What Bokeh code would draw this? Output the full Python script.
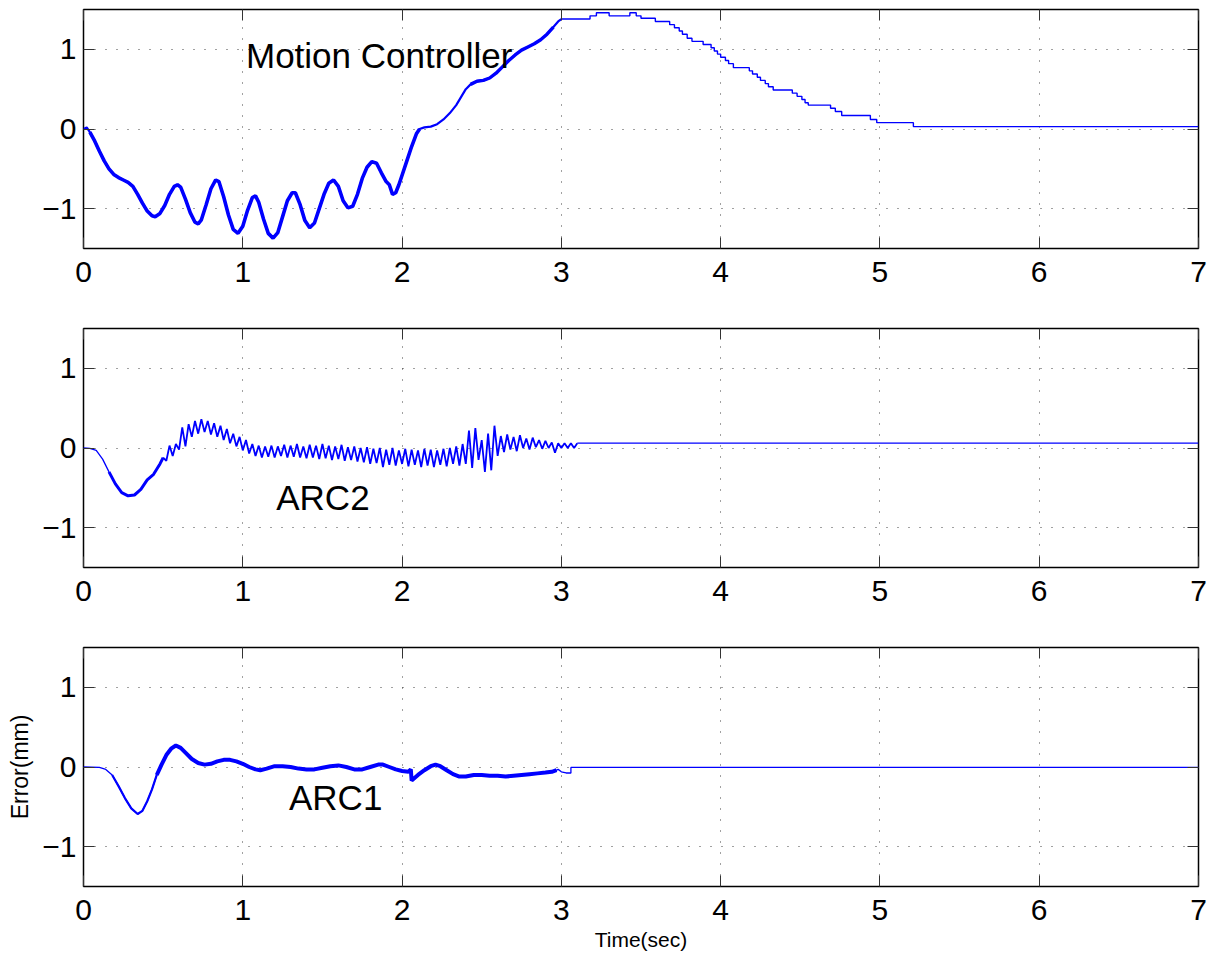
from bokeh.plotting import figure
from bokeh.models import Range1d, FixedTicker, LinearAxis, Label
from bokeh.layouts import column
from bokeh.embed import file_html
from bokeh.resources import INLINE

# ---------------- data ----------------
x_ticks = [0, 1, 2, 3, 4, 5, 6, 7]
y_ticks = [-1, 0, 1]
y_tick_labels = {-1: "\u22121", 0: "0", 1: "1"}

# Motion Controller: continuous part
mc_t = [0.00, 0.01, 0.02, 0.04, 0.07, 0.10, 0.13, 0.16, 0.19, 0.22, 0.25, 0.28, 0.31, 0.34, 0.37,
        0.40, 0.43, 0.45, 0.48, 0.51, 0.54, 0.57, 0.59, 0.61, 0.64, 0.67, 0.70, 0.72, 0.74, 0.77,
        0.80, 0.83, 0.85, 0.88, 0.91, 0.94, 0.97, 1.00, 1.03, 1.06, 1.08, 1.10, 1.13, 1.16, 1.19,
        1.22, 1.25, 1.28, 1.31, 1.33, 1.36, 1.39, 1.42, 1.45, 1.48, 1.51, 1.54, 1.57, 1.60, 1.63,
        1.66, 1.69, 1.72, 1.75, 1.78, 1.81, 1.84, 1.87, 1.90, 1.92, 1.94, 1.96, 1.98, 2.00, 2.03,
        2.06, 2.09, 2.11, 2.14, 2.18, 2.22, 2.26, 2.30, 2.34, 2.37, 2.40, 2.43, 2.47, 2.51, 2.55,
        2.59, 2.63, 2.67, 2.71, 2.75, 2.79, 2.83, 2.87, 2.91, 2.95, 2.98, 3.00]
mc_y = [0.00, 0.01, 0.02, -0.04, -0.15, -0.28, -0.40, -0.50, -0.57, -0.61, -0.64, -0.67, -0.72, -0.82, -0.93,
        -1.03, -1.09, -1.10, -1.06, -0.96, -0.82, -0.72, -0.70, -0.73, -0.88, -1.05, -1.17, -1.19, -1.14, -0.95,
        -0.75, -0.64, -0.66, -0.85, -1.08, -1.26, -1.31, -1.22, -1.02, -0.86, -0.84, -0.92, -1.13, -1.31, -1.37,
        -1.30, -1.10, -0.90, -0.80, -0.80, -0.95, -1.15, -1.24, -1.18, -1.00, -0.82, -0.68, -0.64, -0.72, -0.90,
        -0.99, -0.97, -0.82, -0.62, -0.48, -0.41, -0.43, -0.55, -0.66, -0.70, -0.82, -0.80, -0.70, -0.58, -0.40,
        -0.22, -0.06, 0.00, 0.02, 0.03, 0.06, 0.12, 0.20, 0.30, 0.40, 0.50, 0.56, 0.60, 0.61, 0.64,
        0.70, 0.78, 0.86, 0.93, 0.99, 1.03, 1.07, 1.12, 1.19, 1.28, 1.35, 1.38]

# Motion Controller: quantised (stair) part, value held from each time
mc_step_t = [3.00, 3.18, 3.22, 3.30, 3.43, 3.47, 3.50, 3.59, 3.68, 3.71, 3.74, 3.76, 3.79, 3.82,
             3.89, 3.94, 3.96, 3.98, 4.00, 4.03, 4.05, 4.08, 4.18, 4.20, 4.23, 4.25, 4.28, 4.30,
             4.33, 4.45, 4.48, 4.51, 4.53, 4.55, 4.69, 4.72, 4.76, 4.94, 4.98, 5.21, 7.00]
mc_step_y = [1.38, 1.42, 1.46, 1.42, 1.46, 1.42, 1.39, 1.35, 1.31, 1.27, 1.23, 1.19, 1.14, 1.10,
             1.06, 1.02, 0.98, 0.94, 0.90, 0.86, 0.82, 0.77, 0.73, 0.69, 0.65, 0.61, 0.57, 0.53,
             0.49, 0.45, 0.41, 0.37, 0.33, 0.30, 0.26, 0.22, 0.17, 0.12, 0.08, 0.03, 0.03]

# ARC2: initial transient
arc2_t = [0.00, 0.04, 0.08, 0.12, 0.16, 0.20, 0.24, 0.28, 0.32, 0.36, 0.40, 0.44, 0.48, 0.50]
arc2_y = [0.00, -0.005, -0.03, -0.14, -0.30, -0.45, -0.56, -0.60, -0.59, -0.52, -0.40, -0.33, -0.20, -0.12]
# ARC2: oscillating part, read every 0.02 s from t = 0.50 s
arc2_osc_t0 = 0.50
arc2_osc_dt = 0.02
arc2_osc_y = [
    -0.12, -0.16, 0.03, -0.10, 0.05, -0.02, 0.26, 0.02, 0.30, 0.14,
    0.34, 0.18, 0.36, 0.20, 0.34, 0.17, 0.31, 0.14, 0.28, 0.10,
    0.24, 0.06, 0.18, 0.02, 0.14, -0.03, 0.10, -0.07, 0.05, -0.10,
    0.03, -0.12, 0.02, -0.11, 0.03, -0.12, 0.02, -0.10, 0.04, -0.12,
    0.03, -0.11, 0.05, -0.12, 0.02, -0.13, 0.04, -0.12, 0.03, -0.14,
    0.05, -0.13, 0.03, -0.15, 0.02, -0.14, 0.04, -0.16, 0.01, -0.15,
    0.02, -0.17, 0.00, -0.18, 0.01, -0.20, -0.01, -0.19, 0.00, -0.24,
    -0.02, -0.21, 0.00, -0.22, -0.03, -0.20, -0.01, -0.23, -0.02, -0.21,
    -0.03, -0.24, -0.01, -0.22, -0.02, -0.24, -0.03, -0.21, -0.01, -0.23,
    0.00, -0.20, 0.02, -0.22, 0.05, -0.20, 0.22, -0.25, 0.25, -0.15,
    0.10, -0.30, 0.18, -0.28, 0.28, -0.10, 0.15, -0.05, 0.17, -0.02,
    0.14, -0.04, 0.16, 0.00, 0.12, -0.02, 0.13, 0.01, 0.10, -0.01,
    0.09, 0.00, 0.07, -0.06, 0.06, 0.00, 0.06, 0.00, 0.06, 0.00,
    0.06]
arc2_tail_t = [3.10, 3.12, 7.00]
arc2_tail_y = [0.06, 0.06, 0.06]

# ARC1
arc1_t = [0.00, 0.10, 0.14, 0.18, 0.22, 0.26, 0.30, 0.34, 0.37, 0.40, 0.43, 0.46, 0.49, 0.52, 0.55,
          0.58, 0.61, 0.64, 0.68, 0.72, 0.76, 0.80, 0.84, 0.88, 0.92, 0.96, 1.00, 1.04, 1.08, 1.11,
          1.15, 1.20, 1.25, 1.30, 1.35, 1.40, 1.45, 1.50, 1.55, 1.60, 1.65, 1.70, 1.75, 1.80, 1.85,
          1.88, 1.92, 1.96, 2.00, 2.04, 2.055, 2.06, 2.10, 2.14, 2.18, 2.21, 2.24, 2.28, 2.32, 2.36,
          2.40, 2.45, 2.50, 2.55, 2.60, 2.65, 2.70, 2.75, 2.80, 2.85, 2.90, 2.94, 2.97, 2.98, 3.00,
          3.03, 3.06, 3.06, 7.00]
arc1_y = [0.00, -0.005, -0.03, -0.10, -0.24, -0.39, -0.52, -0.59, -0.55, -0.43, -0.28, -0.10, 0.03, 0.15, 0.23,
          0.27, 0.24, 0.18, 0.10, 0.05, 0.03, 0.04, 0.07, 0.09, 0.09, 0.07, 0.04, 0.00, -0.03, -0.04,
          -0.02, 0.01, 0.01, 0.00, -0.02, -0.03, -0.03, -0.01, 0.01, 0.02, 0.00, -0.03, -0.03, 0.00, 0.03,
          0.03, 0.00, -0.03, -0.05, -0.06, -0.03, -0.17, -0.10, -0.04, 0.01, 0.03, 0.01, -0.04, -0.09, -0.12,
          -0.12, -0.10, -0.10, -0.11, -0.11, -0.12, -0.11, -0.10, -0.09, -0.08, -0.07, -0.06, -0.04, -0.03, -0.06,
          -0.075, -0.075, -0.005, -0.005]

FONT = "Liberation Sans"
BLUE = "#0000ff"
TICK_FS = "30px"
NOTE_FS = "35px"


def subset(ts, ys, lo, hi):
    pts = [(t, y) for t, y in zip(ts, ys) if lo <= t <= hi]
    return [p[0] for p in pts], [p[1] for p in pts]


def hidden_axis(ticks):
    return LinearAxis(ticker=FixedTicker(ticks=ticks), major_tick_in=11, major_tick_out=0,
                      minor_tick_in=0, minor_tick_out=0, axis_line_color=None,
                      major_tick_line_color="#333333", major_tick_line_width=1,
                      major_label_text_font_size="1px", major_label_text_color=None,
                      major_label_standoff=0)


def make_fig(height, bottom):
    p = figure(width=1208, height=height, x_range=Range1d(0, 7), y_range=Range1d(-1.5, 1.5),
               output_backend="svg", toolbar_location=None,
               min_border_left=83, min_border_right=10, min_border_top=9, min_border_bottom=bottom,
               background_fill_color="white", border_fill_color="white",
               outline_line_color="black", outline_line_width=1.5)
    xb = p.below[0]
    yl = p.left[0]
    for ax, ticks in ((xb, x_ticks), (yl, y_ticks)):
        ax.ticker = FixedTicker(ticks=ticks)
        ax.major_tick_in = 11
        ax.major_tick_out = 0
        ax.minor_tick_in = 0
        ax.minor_tick_out = 0
        ax.major_tick_line_color = "#333333"
        ax.axis_line_color = None
        ax.major_label_text_font = FONT
        ax.major_label_text_font_size = TICK_FS
        ax.major_label_text_color = "black"
    xb.major_label_standoff = 13
    yl.major_label_standoff = 7
    yl.major_label_overrides = y_tick_labels
    p.add_layout(hidden_axis(x_ticks), "above")
    p.add_layout(hidden_axis(y_ticks), "right")
    p.xgrid.ticker = FixedTicker(ticks=x_ticks)
    p.ygrid.ticker = FixedTicker(ticks=y_ticks)
    for g in (p.xgrid[0], p.ygrid[0]):
        g.grid_line_color = "#222222"
        g.grid_line_dash = "1 10"
        g.grid_line_width = 1
        g.grid_line_alpha = 0.85
    return p


# ---------- Figure 1: Motion Controller ----------
p1 = make_fig(319, 71)
p1.line(mc_t, mc_y, line_color=BLUE, line_width=2.2)
mc_a_t, mc_a_y = subset(mc_t, mc_y, 0.03, 2.11)
p1.line(mc_a_t, mc_a_y, line_color=BLUE, line_width=3.6)
mc_b_t, mc_b_y = subset(mc_t, mc_y, 2.43, 2.95)
p1.line(mc_b_t, mc_b_y, line_color=BLUE, line_width=3.4)
p1.step(mc_step_t, mc_step_y, mode="after", line_color=BLUE, line_width=1.4)
p1.add_layout(Label(x=1.02, y=0.92, text="Motion Controller", text_font=FONT,
                    text_font_size=NOTE_FS, text_color="black", text_baseline="alphabetic"))

# ---------- Figure 2: ARC2 ----------
p2 = make_fig(319, 71)
a2_thin_t, a2_thin_y = subset(arc2_t, arc2_y, 0.0, 0.16)
a2_thick_t, a2_thick_y = subset(arc2_t, arc2_y, 0.16, 0.5)
p2.line(a2_thin_t, a2_thin_y, line_color=BLUE, line_width=1.3)
p2.line(a2_thick_t, a2_thick_y, line_color=BLUE, line_width=3)
osc_t = [round(arc2_osc_t0 + arc2_osc_dt * i, 3) for i in range(len(arc2_osc_y))]
p2.line(osc_t, arc2_osc_y, line_color=BLUE, line_width=1.8)
p2.line(arc2_tail_t, arc2_tail_y, line_color=BLUE, line_width=1.3)
p2.add_layout(Label(x=1.21, y=-0.62, text="ARC2", text_font=FONT,
                    text_font_size=NOTE_FS, text_color="black", text_baseline="alphabetic"))

# ---------- Figure 3: ARC1 ----------
p3 = make_fig(317, 69)
p3.line(arc1_t, arc1_y, line_color=BLUE, line_width=1.3)
a1_mid_t, a1_mid_y = subset(arc1_t, arc1_y, 0.18, 0.46)
p3.line(a1_mid_t, a1_mid_y, line_color=BLUE, line_width=2.2)
a1_thick_t, a1_thick_y = subset(arc1_t, arc1_y, 0.44, 2.97)
p3.line(a1_thick_t, a1_thick_y, line_color=BLUE, line_width=4)
p3.add_layout(Label(x=1.29, y=-0.38, text="ARC1", text_font=FONT,
                    text_font_size=NOTE_FS, text_color="black", text_baseline="alphabetic"))
xb3 = p3.below[0]
xb3.axis_label = "Time(sec)"
xb3.axis_label_standoff = 5
xb3.axis_label_text_font = FONT
xb3.axis_label_text_font_size = "21px"
xb3.axis_label_text_font_style = "normal"
xb3.axis_label_text_color = "black"
yl3 = p3.left[0]
yl3.axis_label = "Error(mm)"
yl3.axis_label_standoff = 6
yl3.axis_label_text_font = FONT
yl3.axis_label_text_font_size = "23px"
yl3.axis_label_text_font_style = "normal"
yl3.axis_label_text_color = "black"

layout = column(p1, p2, p3, spacing=0)
open("out.html", "w").write(file_html(layout, INLINE))
